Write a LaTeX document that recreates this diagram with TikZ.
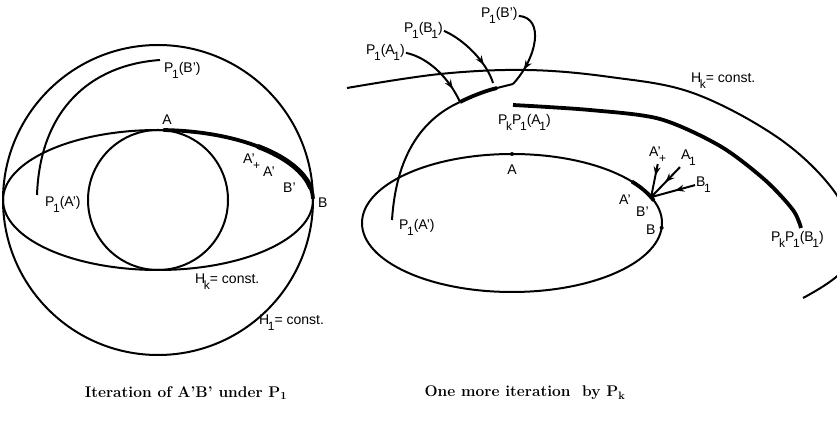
\documentclass[tikz,border=0pt]{standalone}
\usepackage{fontspec}
\setsansfont{Liberation Sans}
\usetikzlibrary{arrows.meta,decorations.markings,calc}
\newcommand{\lo}[1]{\kern-0.1em\raisebox{-0.42em}{\fontsize{12}{12}\selectfont #1}}

\tikzset{
  curve/.style={line width=2pt},
  heavy/.style={line width=3.8pt},
  heavier/.style={line width=5pt},
  lab/.style={font=\sffamily\fontsize{14}{14}\selectfont,inner sep=1pt},
  capt/.style={font=\bfseries\fontsize{15.5}{18}\selectfont},
  midtip/.style={postaction={decorate},
    decoration={markings,mark=at position #1 with {\arrow{Stealth[length=9pt,width=7pt]}}}}
}

\begin{document}
\begin{tikzpicture}[x=1pt,y=1pt]
\useasboundingbox (0,0) rectangle (837,420);

% left: iteration of A'B' under P1
\coordinate (O1) at (158,220);
\draw[curve] (O1) circle[radius=155];
\draw[curve] (O1) ellipse[x radius=155,y radius=70];
\draw[curve] (O1) circle[radius=70];
\draw[heavy] ($(O1)+(88:155 and 70)$) arc[start angle=88,end angle=1,x radius=155,y radius=70];
\draw[heavier] ($(O1)+(50:155 and 70)$) arc[start angle=50,end angle=10,x radius=155,y radius=70];
\coordinate (LA) at (37,225);
\coordinate (LB) at (160,360);
\draw[curve] (LA) .. controls (40,310) and (90,355) .. (LB);

\node[lab,anchor=base west] (lp1a) at (44,213) {P\lo1(A')};
\node[lab,anchor=base west] (lp1b) at (163,347) {P\lo1(B')};
\node[lab,anchor=base] (la) at (167,295) {A};
\node[lab,anchor=base west] (laplus) at (242,256) {A'\lo{+}};
\node[lab,anchor=base west] (laprime) at (262,243) {A'};
\node[lab,anchor=base west] (lbprime) at (282,227) {B'};
\node[lab,anchor=base west] (lb) at (317,212) {B};
\node[lab,anchor=base west] (lhk) at (194,136) {H\lo{k}= const.};
\node[lab,anchor=base west] (lh1) at (258,95) {H\lo{1}= const.};

% right: one more iteration by Pk
\coordinate (O2) at (512,197);
\draw[curve] (O2) ellipse[x radius=150,y radius=69];
\draw[heavy] ($(O2)+(37:150 and 69)$) arc[start angle=37,end angle=19,x radius=150,y radius=69];
\coordinate (A2) at ($(O2)+(90:150 and 69)$);
\coordinate (B2) at ($(O2)+(-4:150 and 69)$);
\coordinate (T2) at ($(O2)+(22:150 and 69)$);
\fill (A2) circle[radius=2];
\fill (B2) circle[radius=2];

\begin{scope}
\clip (0,0) rectangle (837,420);
\draw[curve] plot[smooth,tension=0.6] coordinates {(347,332) (440,346) (527,350) (610,343) (693,327) (777,283) (831,233) (850,190) (843,150) (803,122)};
\end{scope}
\draw[heavy] plot[smooth] coordinates {(513,315) (590,310) (660,301) (720,274) (765,240) (793,210) (801,192)};

\coordinate (RA) at (392,200);
\coordinate (RT1) at (460,318);
\coordinate (RT2) at (497,332);
\coordinate (RB) at (513,336);
\coordinate (tB1) at (493,337);
\draw[curve] (RA) .. controls (396,262) and (420,300) .. (RT1);
\draw[heavy] (RT1) .. controls (472,324) and (485,329) .. (RT2);
\draw[curve] (RT2) -- (RB);

\node[lab,anchor=base] (ra) at (512,245) {A};
\node[lab,anchor=base west] (rb) at (645,185) {B};
\node[lab,anchor=base west] (raprime) at (618,215) {A'};
\node[lab,anchor=base west] (rbprime) at (635,203) {B'};
\node[lab,anchor=base west] (raplus) at (648,263) {A'\lo{+}};
\node[lab,anchor=base west] (ra1) at (680,260) {A\lo1};
\node[lab,anchor=base west] (rb1) at (695,233) {B\lo1};
\node[lab,anchor=base west] (rp1a) at (398,190) {P\lo1(A')};
\node[lab,anchor=base west] (tp1a1) at (365,365) {P\lo1(A\lo1)};
\node[lab,anchor=base west] (tp1b1) at (403,387) {P\lo1(B\lo1)};
\node[lab,anchor=base west] (tp1b) at (480,402) {P\lo1(B')};
\node[lab,anchor=base west] (pka1) at (497,295) {P\lo{k}P\lo1(A\lo1)};
\node[lab,anchor=base west] (pkb1) at (770,178) {P\lo{k}P\lo1(B\lo1)};
\node[lab,anchor=base west] (rhk) at (690,337) {H\lo{k}= const.};

\draw[curve,midtip=0.35] (raplus.south) -- (T2);
\draw[curve,midtip=0.5] (ra1.south west) -- (T2);
\draw[curve,midtip=0.45] (rb1.west) -- (T2);
\draw[curve,midtip=0.8] (tp1a1.east) .. controls (430,362) and (450,340) .. (RT1);
\draw[curve,midtip=0.72] (tp1b1.east) .. controls (465,380) and (487,357) .. (tB1);
\draw[curve,midtip=0.78] (tp1b.east) .. controls (545,402) and (537,362) .. (RB);

\node[capt] (cap1) at (186,27) {Iteration of A'B' under P\textsubscript{1}};
\node[capt] (cap2) at (525,27) {One more iteration\ \ by P\textsubscript{k}};
\end{tikzpicture}
\end{document}
